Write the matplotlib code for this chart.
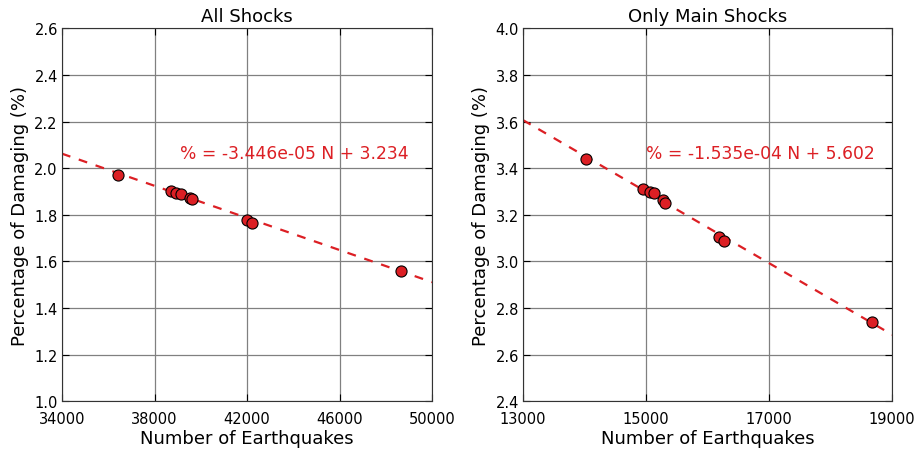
import numpy as np
import matplotlib
matplotlib.use("Agg")
import matplotlib.pyplot as plt

# all shocks
all_n = [36428, 38700, 38948, 39133, 39520, 39606, 42008, 42208, 48634]
all_pct = [1.972, 1.901, 1.893, 1.889, 1.872, 1.868, 1.776, 1.767, 1.558]
all_slope, all_icpt = -3.446e-05, 3.234

# main shocks only
main_n = [14020, 14955, 15064, 15134, 15281, 15313, 16178, 16266, 18664]
main_pct = [3.438, 3.309, 3.300, 3.292, 3.265, 3.252, 3.104, 3.087, 2.742]
main_slope, main_icpt = -1.535e-04, 5.602

red = '#dc1f24'

fig = plt.figure(figsize=(9.22, 4.52), dpi=100)
ax1 = fig.add_axes([0.0672, 0.110, 0.4016, 0.825])
ax2 = fig.add_axes([0.5672, 0.110, 0.4005, 0.825])


def panel(ax, n, pct, slope, icpt, xlim, ylim, xticks, title, tx, ty):
    xs = np.array(xlim)
    ax.plot(xs, slope * xs + icpt, '--', color=red, lw=1.6, dashes=(4, 4), zorder=2)
    ax.plot(n, pct, 'o', color=red, mec='black', mew=0.8, ms=8, zorder=3)
    eq = '%% = %.3e N + %.3f' % (slope, icpt)
    ax.text(tx, ty, eq, color=red, fontsize=12.3, va='center')
    ax.set_xlim(xlim)
    ax.set_ylim(ylim)
    ax.set_xticks(xticks)
    ax.set_yticks(np.arange(ylim[0], ylim[1] + 0.01, 0.2))
    ax.yaxis.set_major_formatter(plt.FormatStrFormatter('%.1f'))
    ax.grid(True, color='#808080', lw=0.9, ls='-')
    ax.set_axisbelow(True)
    ax.tick_params(direction='in', top=True, right=True, labelsize=10.5,
                   length=5)
    ax.tick_params(axis='x', pad=7)
    ax.tick_params(axis='y', pad=3)
    for s in ax.spines.values():
        s.set_color('#333333')
    ax.set_title(title, fontsize=13, pad=5)
    ax.set_xlabel('Number of Earthquakes', fontsize=13, labelpad=2)
    ax.set_ylabel('Percentage of Damaging (%)', fontsize=13)


panel(ax1, all_n, all_pct, all_slope, all_icpt, (34000, 50000), (1.0, 2.6),
      [34000, 38000, 42000, 46000, 50000], 'All Shocks', 39100, 2.065)
panel(ax2, main_n, main_pct, main_slope, main_icpt, (13000, 19000), (2.4, 4.0),
      [13000, 15000, 17000, 19000], 'Only Main Shocks', 15000, 3.467)

fig.savefig('out.png', dpi=100)
